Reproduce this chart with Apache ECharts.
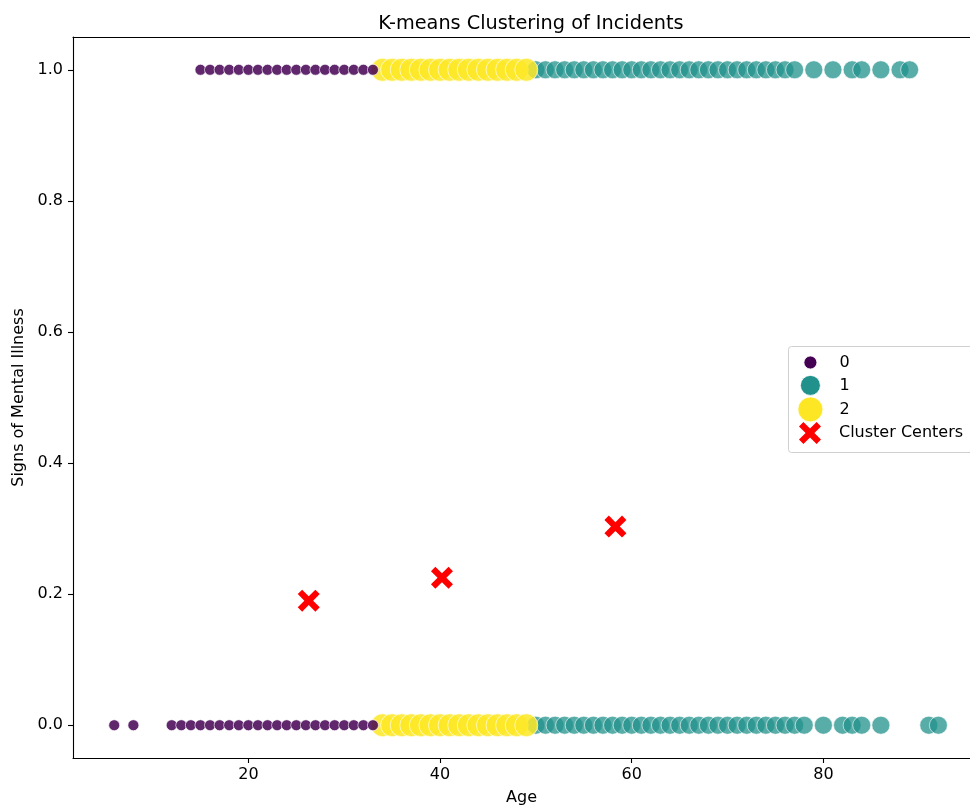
<!DOCTYPE html>
<html>
<head>
<meta charset="utf-8">
<script src="https://cdn.jsdelivr.net/npm/echarts@6/dist/echarts.min.js"></script>
<style>
html,body{margin:0;padding:0;background:#fff;}
#chart{width:970px;height:811px;}
</style>
</head>
<body>
<div id="chart"></div>
<script>
// Ages of points per cluster, at "Signs of Mental Illness" = 1 and = 0
var cluster0Top = [15,16,17,18,19,20,21,22,23,24,25,26,27,28,29,30,31,32,33];
var cluster0Bottom = [6,8,12,13,14,15,16,17,18,19,20,21,22,23,24,25,26,27,28,29,30,31,32,33];
var cluster1Top = [50,51,52,53,54,55,56,57,58,59,60,61,62,63,64,65,66,67,68,69,70,71,72,73,74,75,76,77,79,81,83,84,86,88,89];
var cluster1Bottom = [50,51,52,53,54,55,56,57,58,59,60,61,62,63,64,65,66,67,68,69,70,71,72,73,74,75,76,77,78,80,82,83,84,86,91,92];
var cluster2Top = [34,35,36,37,38,39,40,41,42,43,44,45,46,47,48,49];
var cluster2Bottom = [34,35,36,37,38,39,40,41,42,43,44,45,46,47,48,49];
// Cluster centers [age, signs]
var centers = [[26.3, 0.19], [40.2, 0.225], [58.3, 0.303]];
var xTicks = [20, 40, 60, 80];
var yTicks = [0, 0.2, 0.4, 0.6, 0.8, 1.0];
var clusterNames = ['0', '1', '2'];
var centerName = 'Cluster Centers';

function pts(top, bottom) {
  var d = [];
  top.forEach(function (a) { d.push([a, 1]); });
  bottom.forEach(function (a) { d.push([a, 0]); });
  return d;
}

var colors = {'0': '#440154', '1': '#21918c', '2': '#fde725'};
var sizes = {'0': 11, '1': 18, '2': 23};
var xPath = 'path://M0,2 L2,0 L5,3 L8,0 L10,2 L7,5 L10,8 L8,10 L5,7 L2,10 L0,8 L3,5 Z';

var font = 'DejaVu Sans';
var fs = 16;
var chart = echarts.init(document.getElementById('chart'), null, {renderer: 'canvas'});

function legendFor(name, icon, w, top, color) {
  return {
    data: [{name: name, icon: icon, itemStyle: {color: color, opacity: 1, borderColor: '#fff', borderWidth: icon === 'circle' ? 0.8 : 0}}],
    left: 810 - w / 2,
    top: top - w / 2,
    orient: 'vertical',
    padding: 0,
    itemWidth: w,
    itemHeight: w,
    selectedMode: true,
    z: 6,
    textStyle: {fontFamily: font, fontSize: fs, color: '#000', padding: [0, 0, 0, 24 - w / 2]}
  };
}

var lineStyle = {color: '#000', width: 1.1};

chart.setOption({
  animation: false,
  backgroundColor: '#fff',
  title: {
    text: 'K-means Clustering of Incidents',
    left: 526, top: 9, textAlign: 'center',
    textStyle: {fontFamily: font, fontSize: 19.3, fontWeight: 'normal', color: '#000'}
  },
  grid: {left: 73, right: 0, top: 37, bottom: 52, show: false},
  graphic: [{
    type: 'rect', left: 788, top: 346, z: 5,
    shape: {width: 200, height: 106, r: 3},
    style: {fill: 'rgba(255,255,255,0.85)', stroke: '#d0d0d0', lineWidth: 1}
  }],
  legend: [
    legendFor('0', 'circle', 13, 361, colors['0']),
    legendFor('1', 'circle', 20, 385, colors['1']),
    legendFor('2', 'circle', 25, 409, colors['2']),
    legendFor(centerName, xPath, 22, 433, '#ff0000')
  ],
  xAxis: [{
    type: 'value', min: 1.7, max: 95.3, position: 'bottom',
    name: 'Age', nameLocation: 'middle', nameGap: 32,
    nameTextStyle: {fontFamily: font, fontSize: fs, color: '#000'},
    splitLine: {show: false},
    axisLine: {show: true, onZero: false, lineStyle: lineStyle},
    axisTick: {show: true, inside: false, length: 5, lineStyle: lineStyle, customValues: xTicks},
    axisLabel: {fontFamily: font, fontSize: fs, color: '#000', margin: 9, customValues: xTicks}
  }, {
    type: 'value', min: 1.7, max: 95.3, position: 'top',
    splitLine: {show: false},
    axisLine: {show: true, onZero: false, lineStyle: lineStyle},
    axisTick: {show: false},
    axisLabel: {show: false}
  }],
  yAxis: {
    type: 'value', min: -0.05, max: 1.05,
    name: 'Signs of Mental Illness', nameLocation: 'middle', nameGap: 46,
    nameTextStyle: {fontFamily: font, fontSize: fs, color: '#000'},
    splitLine: {show: false},
    axisLine: {show: true, onZero: false, lineStyle: lineStyle},
    axisTick: {show: true, inside: false, length: 5, lineStyle: lineStyle, customValues: yTicks},
    axisLabel: {fontFamily: font, fontSize: fs, color: '#000', margin: 10, customValues: yTicks,
      formatter: function (v) { return v.toFixed(1); }}
  },
  series: [
    {name: '1', type: 'scatter', data: pts(cluster1Top, cluster1Bottom), symbol: 'circle', symbolSize: sizes['1'],
      itemStyle: {color: colors['1'], opacity: 0.75, borderColor: '#fff', borderWidth: 0.8}, z: 2},
    {name: '2', type: 'scatter', data: pts(cluster2Top, cluster2Bottom), symbol: 'circle', symbolSize: sizes['2'],
      itemStyle: {color: colors['2'], opacity: 0.85, borderColor: '#fff', borderWidth: 0.8}, z: 2},
    {name: '0', type: 'scatter', data: pts(cluster0Top, cluster0Bottom), symbol: 'circle', symbolSize: sizes['0'],
      itemStyle: {color: colors['0'], opacity: 0.85, borderColor: '#fff', borderWidth: 0.8}, z: 2},
    {name: centerName, type: 'scatter', data: centers, symbol: xPath, symbolSize: 22,
      itemStyle: {color: '#ff0000', opacity: 1}, z: 3}
  ]
});
</script>
</body>
</html>
